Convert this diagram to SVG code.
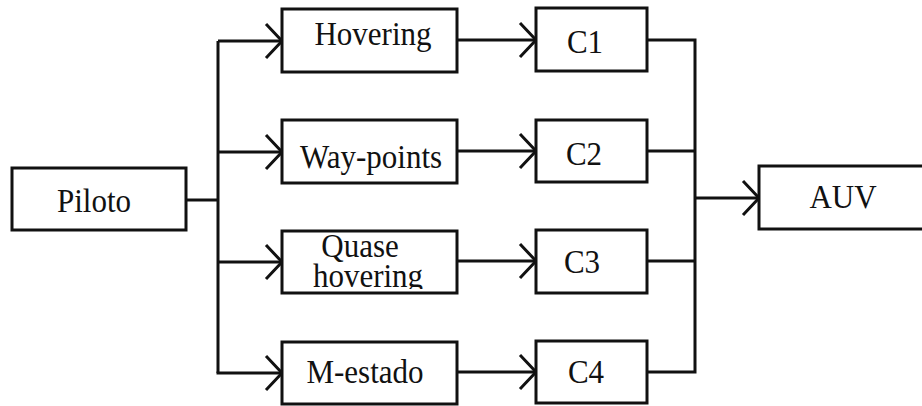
<svg xmlns="http://www.w3.org/2000/svg" width="922" height="406" viewBox="0 0 922 406">
  <style>
    .box { fill: #ffffff; stroke: #111111; stroke-width: 3; }
    .wire { fill: none; stroke: #111111; stroke-width: 3; }
    .lbl { font-family: "Liberation Serif", "Times New Roman", serif; font-size: 31px; fill: #111111; text-anchor: middle; }
  </style>
  <defs>
    <marker id="open-arrow" markerUnits="userSpaceOnUse" markerWidth="40" markerHeight="40" viewBox="-20 -20 40 40" refX="0" refY="0" orient="auto">
      <path d="M-16,-17 L0,0 L-16,17" fill="none" stroke="#111111" stroke-width="3"/>
    </marker>
    <clipPath id="clip-quase">
      <rect x="283" y="232" width="173" height="57"/>
    </clipPath>
  </defs>
  <rect width="922" height="406" fill="#ffffff"/>

  <g id="connectors">
    <!-- fan-out from Piloto -->
    <path class="wire" d="M186,200 H218"/>
    <path class="wire" d="M218,373 V41"/>
    <path class="wire" d="M218,41 H282" marker-end="url(#open-arrow)"/>
    <path class="wire" d="M218,152 H282" marker-end="url(#open-arrow)"/>
    <path class="wire" d="M218,262 H282" marker-end="url(#open-arrow)"/>
    <path class="wire" d="M216.5,373 H282" marker-end="url(#open-arrow)"/>
    <!-- modes to controllers -->
    <path class="wire" d="M457,40 H536" marker-end="url(#open-arrow)"/>
    <path class="wire" d="M457,151 H536" marker-end="url(#open-arrow)"/>
    <path class="wire" d="M457,261 H536" marker-end="url(#open-arrow)"/>
    <path class="wire" d="M457,372 H536" marker-end="url(#open-arrow)"/>
    <!-- controllers merge into AUV -->
    <path class="wire" d="M647,40 H695 V372 H647"/>
    <path class="wire" d="M647,151 H695"/>
    <path class="wire" d="M647,261 H695"/>
    <path class="wire" d="M695,198 H759" marker-end="url(#open-arrow)"/>
  </g>

  <g id="piloto">
    <rect class="box" x="12" y="168" width="174" height="62"/>
    <text class="lbl" transform="translate(94,212) scale(1,1.08)">Piloto</text>
  </g>

  <g id="hovering">
    <rect class="box" x="282" y="9" width="175" height="63"/>
    <text class="lbl" transform="translate(373,45) scale(1,1.08)">Hovering</text>
  </g>

  <g id="way-points">
    <rect class="box" x="282" y="120" width="175" height="63"/>
    <text class="lbl" transform="translate(371,168) scale(1,1.08)">Way-points</text>
  </g>

  <g id="quase-hovering">
    <rect class="box" x="282" y="231" width="175" height="62"/>
    <g clip-path="url(#clip-quase)">
      <text class="lbl" transform="translate(360,257) scale(1,1.08)">Quase</text>
      <text class="lbl" transform="translate(368,287) scale(1,1.08)">hovering</text>
    </g>
  </g>

  <g id="m-estado">
    <rect class="box" x="282" y="342" width="175" height="62"/>
    <text class="lbl" transform="translate(365,383) scale(1,1.08)">M-estado</text>
  </g>

  <g id="c1">
    <rect class="box" x="536" y="8" width="111" height="63"/>
    <text class="lbl" transform="translate(585,53) scale(1,1.08)">C1</text>
  </g>

  <g id="c2">
    <rect class="box" x="536" y="120" width="111" height="62"/>
    <text class="lbl" transform="translate(584,165) scale(1,1.08)">C2</text>
  </g>

  <g id="c3">
    <rect class="box" x="536" y="230" width="111" height="63"/>
    <text class="lbl" transform="translate(582,273) scale(1,1.08)">C3</text>
  </g>

  <g id="c4">
    <rect class="box" x="536" y="341" width="111" height="62"/>
    <text class="lbl" transform="translate(586,383) scale(1,1.08)">C4</text>
  </g>

  <g id="auv">
    <rect class="box" x="759" y="166" width="180" height="63"/>
    <text class="lbl" transform="translate(843,208) scale(1,1.08)">AUV</text>
  </g>
</svg>
